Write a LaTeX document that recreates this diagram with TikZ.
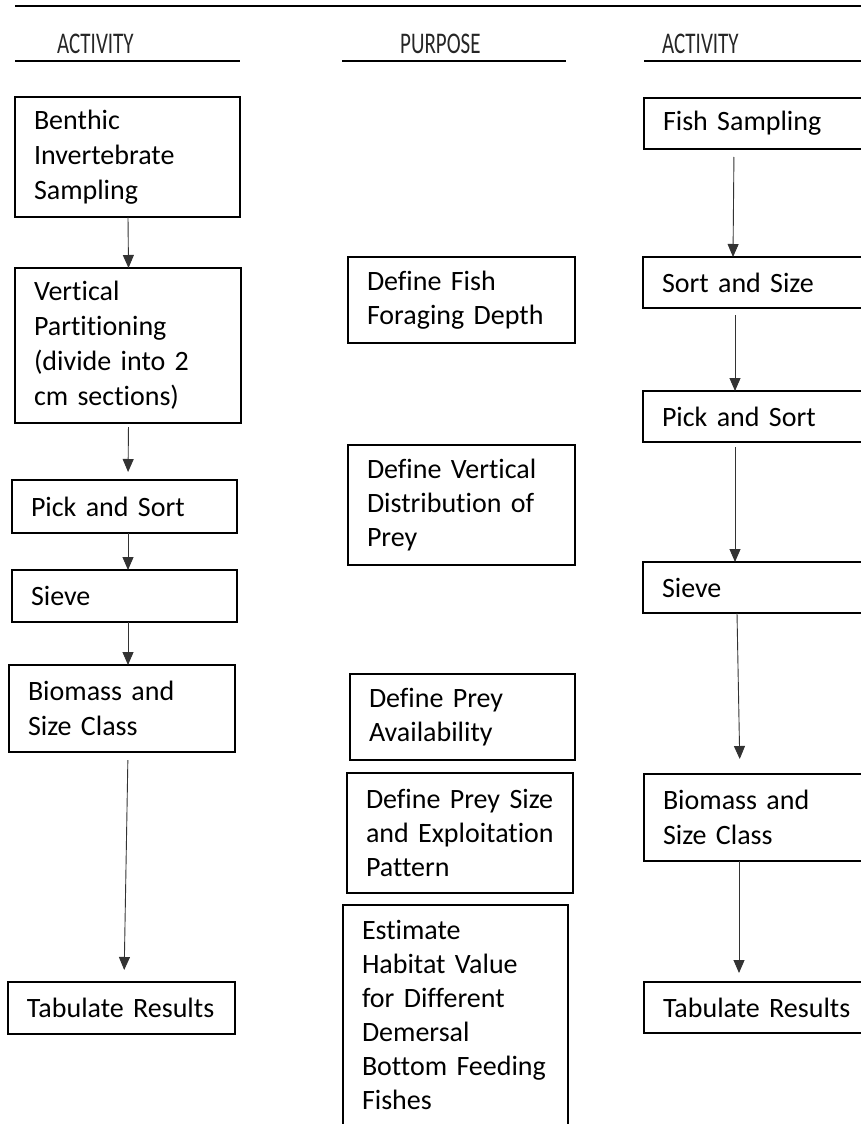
\documentclass[tikz,border=0pt]{standalone}
\usepackage{fontspec}
\setmainfont{Carlito}[Ligatures={NoCommon,NoContextual}, WordSpace=0.7]
\usetikzlibrary{arrows.meta, positioning, calc}
\tikzset{
  stepbox/.style={
    rectangle, draw=black, line width=1.3pt, anchor=north west, outer sep=0pt,
    inner xsep=19pt, inner ysep=6pt, align=left,
    font=\fontsize{28pt}{35pt}\selectfont
  },
  purpose/.style={stepbox, font=\fontsize{28pt}{34pt}\selectfont},
  flow/.style={-{Triangle[width=11pt,length=13pt]}, draw=black!80, line width=0.9pt},
  header/.style={anchor=base west, inner sep=0pt, font=\fontsize{30pt}{34pt}\selectfont, text=black!85},
  rule/.style={line width=2.6pt}
}
\newcommand{\headtxt}[1]{\scalebox{0.7}[1]{#1}}

\begin{document}
\begin{tikzpicture}[x=1pt, y=-1pt]
    \useasboundingbox (0,0) rectangle (861,1124);
    \clip (0,0) rectangle (861,1124);
    % column headers
    \draw[rule] (15,6) -- (861,6);
    \node[header] (h1) at (57,53) {\headtxt{ACTIVITY}};
    \node[header] (h2) at (400,53) {\headtxt{PURPOSE}};
    \node[header] (h3) at (662,53) {\headtxt{ACTIVITY}};
    \draw[rule, line width=2.4pt] (15,61) -- (240,61);
    \draw[rule, line width=2.4pt] (342,61) -- (566,61);
    \draw[rule, line width=2.4pt] (644,61) -- (861,61);
    % benthic activities
    \node[stepbox, minimum width=225pt, minimum height=120pt, text width=187pt] (L1) at (15,97) {Benthic\\Invertebrate\\Sampling};
    \node[stepbox, minimum width=226pt, minimum height=155pt, text width=188pt] (L2) at (15,268) {Vertical\\Partitioning\\(divide into 2\\cm sections)};
    \node[stepbox, minimum width=225pt, minimum height=53pt, text width=187pt] (L3) at (12,480) {Pick and Sort};
    \node[stepbox, minimum width=225pt, minimum height=52pt, text width=187pt] (L4) at (12,570) {Sieve};
    \node[stepbox, minimum width=226pt, minimum height=87pt, text width=188pt] (L5) at (9,665) {Biomass and\\Size Class};
    \node[stepbox, minimum width=227pt, minimum height=52pt, text width=189pt] (L6) at (8,982) {Tabulate Results};
    % purposes
    \node[purpose, minimum width=227pt, minimum height=86pt, text width=189pt] (P1) at (348,257) {Define Fish\\Foraging Depth};
    \node[purpose, minimum width=227pt, minimum height=120pt, text width=189pt] (P2) at (348,445) {Define Vertical\\Distribution of\\Prey};
    \node[purpose, minimum width=225pt, minimum height=86pt, text width=187pt] (P3) at (350,674) {Define Prey\\Availability};
    \node[purpose, minimum width=226pt, minimum height=120pt, text width=188pt] (P4) at (347,773) {Define Prey Size\\and Exploitation\\Pattern};
    \node[purpose, minimum width=225pt, inner ysep=15pt, text width=187pt] (P5) at (343,905) {Estimate\\Habitat Value\\for Different\\Demersal\\Bottom Feeding\\Fishes\\\mbox{}};
    % fish activities
    \node[stepbox, minimum width=240pt, minimum height=51pt, text width=202pt] (R1) at (644,98) {Fish Sampling};
    \node[stepbox, minimum width=240pt, minimum height=51pt, text width=202pt] (R2) at (643,257) {Sort and Size};
    \node[stepbox, minimum width=240pt, minimum height=51pt, text width=202pt] (R3) at (643,391) {Pick and Sort};
    \node[stepbox, minimum width=240pt, minimum height=51pt, text width=202pt] (R4) at (643,562) {Sieve};
    \node[stepbox, minimum width=240pt, minimum height=87pt, text width=202pt] (R5) at (644,774) {Biomass and\\Size Class};
    \node[stepbox, minimum width=240pt, minimum height=51pt, text width=202pt] (R6) at (644,982) {Tabulate Results};
    % connectors
    \draw[flow] ([xshift=0.5pt]L1.south) -- ([xshift=0.5pt]L2.north);
    \draw[flow, shorten <=4pt, shorten >=8pt] ([xshift=0.5pt]L2.south) -- ([xshift=3.5pt]L3.north);
    \draw[flow] ([xshift=3.5pt]L3.south) -- ([xshift=3.5pt]L4.north);
    \draw[flow] ([xshift=3.5pt]L4.south) -- ([xshift=6pt]L5.north);
    \draw[flow, shorten <=8pt, shorten >=12pt] ([xshift=6pt]L5.south) -- ([xshift=2.5pt]L6.north);
    \draw[flow, shorten <=8pt] ([xshift=-30pt]R1.south) -- ([xshift=-30pt]R2.north);
    \draw[flow, shorten <=7pt] ([xshift=-28pt]R2.south) -- ([xshift=-28pt]R3.north);
    \draw[flow, shorten <=5pt] ([xshift=-28pt]R3.south) -- ([xshift=-28pt]R4.north);
    \draw[flow, shorten >=15pt] ([xshift=-26pt]R4.south) -- ([xshift=-24pt]R5.north);
    \draw[flow, shorten >=9pt] ([xshift=-25pt]R5.south) -- ([xshift=-25pt]R6.north);
\end{tikzpicture}
\end{document}
